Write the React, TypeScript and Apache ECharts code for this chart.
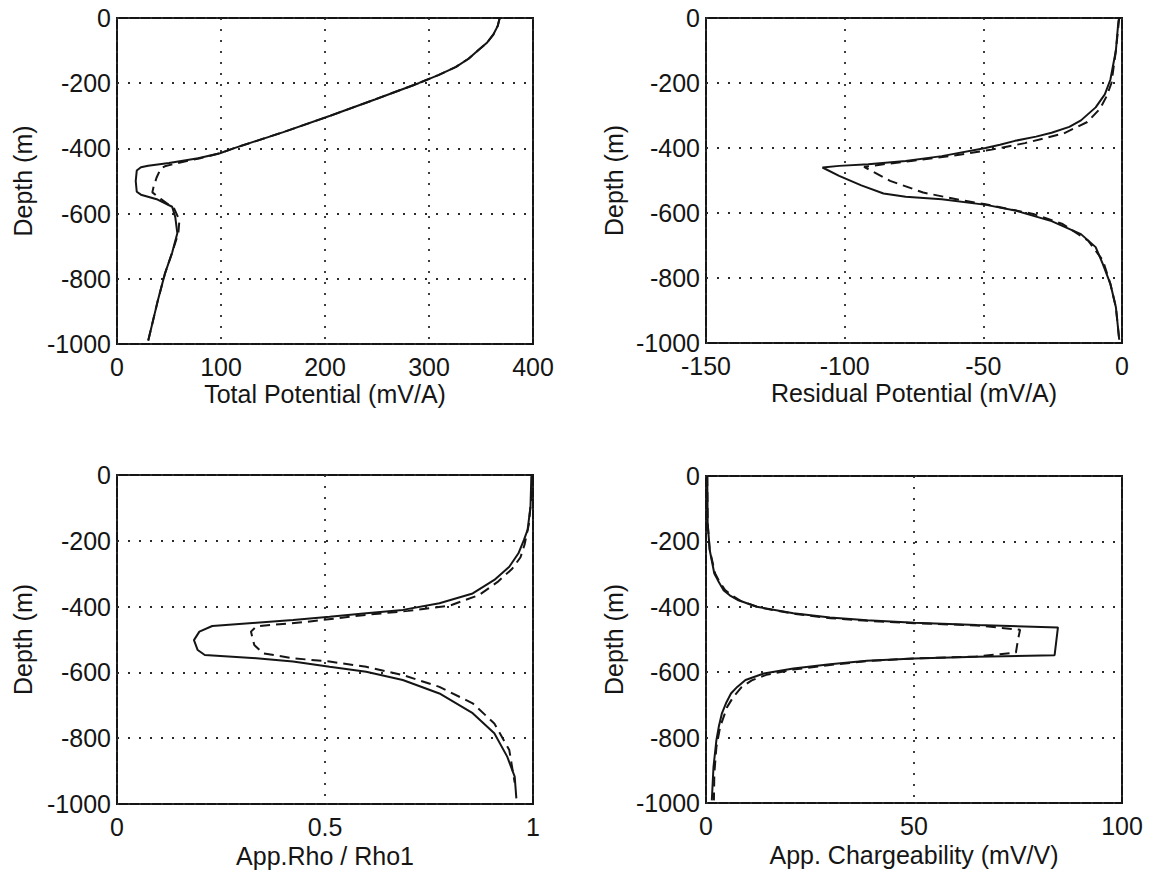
import React, { useEffect, useRef } from "react";
import * as echarts from "echarts";

// ---- Panel 1: Total Potential (mV/A) ----
const tpModelDepth = [0, -25, -50, -75, -100, -125, -150, -175, -200, -250, -300, -350, -400, -415, -430, -445, -453, -458, -468, -500, -533, -542, -557, -579, -610, -660, -720, -785, -870, -990];
const tpModel = [368, 366, 362, 356, 347, 338, 326, 309, 290, 248, 205, 160, 112, 99, 78, 50, 30, 23, 19, 18, 19, 23, 39, 53, 56, 58, 53, 46, 39, 30];
const tpFitDepth = [0, -25, -50, -75, -100, -125, -150, -175, -200, -250, -300, -350, -400, -415, -430, -445, -455, -462, -490, -520, -535, -555, -585, -620, -660, -720, -785, -870, -990];
const tpFit = [368, 366, 362, 356, 347, 338, 326, 309, 290, 248, 205, 160, 112, 99, 80, 58, 46, 42, 38, 35, 34, 42, 55, 60, 59, 53, 46, 39, 30];

// ---- Panel 2: Residual Potential (mV/A) ----
const rpModelDepth = [0, -10, -100, -190, -235, -275, -315, -335, -353, -365, -378, -390, -400, -425, -440, -450, -455, -460, -486, -515, -540, -550, -558, -575, -592, -625, -665, -705, -757, -818, -890, -990];
const rpModel = [-1, -1.3, -2.2, -4.2, -6.2, -9.5, -14.8, -19, -25.4, -31, -38.6, -44, -49.2, -65, -78, -91.5, -102, -108, -102, -94, -86, -78, -65, -49, -38.6, -25.4, -14.8, -9.5, -6.9, -4.2, -2.2, -1];
const rpFitDepth = [0, -100, -200, -240, -280, -320, -355, -385, -405, -425, -440, -450, -458, -501, -537, -560, -573, -603, -634, -685, -746, -818, -890, -990];
const rpFit = [-1, -2.2, -3.8, -5.5, -8, -12.5, -21, -35, -47, -62, -76, -86, -93, -83.6, -71.7, -58.5, -49.2, -32, -21.4, -12.2, -6.9, -4.2, -2.2, -1];

// ---- Panel 3: App.Rho / Rho1 ----
const arModelDepth = [0, -5, -96, -167, -198, -238, -279, -319, -360, -390, -410, -420, -431, -441, -449, -459, -476, -502, -532, -547, -557, -567, -583, -598, -623, -664, -724, -785, -856, -917, -983];
const arModel = [1, 0.996, 0.994, 0.987, 0.978, 0.965, 0.943, 0.907, 0.855, 0.775, 0.687, 0.599, 0.511, 0.423, 0.335, 0.229, 0.198, 0.185, 0.194, 0.211, 0.335, 0.423, 0.511, 0.599, 0.687, 0.775, 0.855, 0.907, 0.938, 0.956, 0.96];
const arFitDepth = [0, -80, -150, -210, -250, -285, -325, -365, -397, -413, -425, -447, -460, -476, -517, -542, -557, -567, -583, -608, -644, -694, -755, -836, -935];
const arFit = [1, 0.995, 0.99, 0.98, 0.97, 0.95, 0.915, 0.87, 0.8, 0.7, 0.6, 0.45, 0.335, 0.322, 0.33, 0.352, 0.423, 0.511, 0.599, 0.687, 0.775, 0.855, 0.907, 0.943, 0.956];

// ---- Panel 4: App. Chargeability (mV/V) ----
const acModelDepth = [0, -145, -227, -298, -320, -349, -365, -380, -400, -420, -433, -441, -449, -456, -463, -548, -553, -558, -565, -576, -589, -604, -624, -645, -665, -695, -727, -765, -808, -890, -992];
const acModel = [0.3, 0.4, 0.9, 2.0, 2.9, 4.2, 5.7, 7.8, 12.2, 21, 29.8, 38.7, 50.1, 65.1, 84.6, 83.8, 65.1, 50.1, 38.7, 29.8, 21, 13.9, 9.5, 7.5, 6.0, 4.8, 3.8, 3.1, 2.5, 1.8, 1.4];
const acFitDepth = [0, -145, -227, -298, -320, -349, -365, -382, -402, -422, -435, -443, -450, -457, -470, -500, -540, -552, -558, -566, -578, -592, -608, -625, -645, -675, -706, -767, -829, -910, -992];
const acFit = [0.3, 0.4, 0.9, 2.2, 3.1, 4.6, 6.2, 8.3, 12.8, 21.5, 30, 39, 50, 65, 75.5, 75, 74.5, 65, 50, 38.7, 29.8, 21, 14.5, 11, 8.6, 6.6, 5.1, 3.4, 2.5, 2.0, 1.9];

// ---- Axes ----
const xNames = ["Total Potential (mV/A)", "Residual Potential (mV/A)", "App.Rho / Rho1", "App. Chargeability (mV/V)"];
const xMins = [0, -150, 0, 0];
const xMaxs = [400, 0, 1, 100];
const xIntervals = [100, 50, 0.5, 50];
const yName = "Depth (m)";

const FONT = "'Liberation Sans', Arial, Helvetica, sans-serif";
const INK = "#151515";
const FS = 25;

const zip = (xs: number[], ds: number[]) => xs.map((x, i) => [x, ds[i]]);
const fmt = (v: number) => String(v);

export default function App() {
  const ref = useRef<HTMLDivElement>(null);
  useEffect(() => {
    if (!ref.current) return;
    const chart = echarts.init(ref.current, undefined, { renderer: "svg" });
    const grids = [
      { left: 117, top: 18, width: 416, height: 326 },
      { left: 706, top: 18, width: 416, height: 325 },
      { left: 117, top: 475, width: 416, height: 329 },
      { left: 706, top: 476, width: 416, height: 327 },
    ].map((g) => ({ ...g, show: true, borderColor: INK, borderWidth: 2, backgroundColor: "transparent" }));

    const split = { show: true, lineStyle: { type: [2, 9] as any, color: "#2a2a2a", width: 1.8 } };
    const xNameGaps = [37, 37, 39, 39];
    const yNameGaps = [82, 80, 82, 80];

    const xAxis = xNames.map((n, i) => ({
      gridIndex: i,
      type: "value",
      min: xMins[i],
      max: xMaxs[i],
      interval: xIntervals[i],
      name: n,
      nameLocation: "middle",
      nameGap: xNameGaps[i],
      nameTextStyle: { fontSize: FS, color: INK, fontFamily: FONT },
      axisLine: { show: false },
      axisTick: { show: false },
      axisLabel: { fontSize: FS, color: INK, fontFamily: FONT, margin: 10, showMinLabel: true, showMaxLabel: true, formatter: fmt },
      splitLine: split,
    }));
    const yAxis = [0, 1, 2, 3].map((i) => ({
      gridIndex: i,
      type: "value",
      min: -1000,
      max: 0,
      interval: 200,
      name: yName,
      nameLocation: "middle",
      nameGap: yNameGaps[i],
      nameTextStyle: { fontSize: FS, color: INK, fontFamily: FONT },
      axisLine: { show: false },
      axisTick: { show: false },
      axisLabel: { fontSize: FS, color: INK, fontFamily: FONT, margin: 6, showMinLabel: true, showMaxLabel: true, formatter: fmt },
      splitLine: split,
    }));

    const pairs: [number[], number[], number[], number[]][] = [
      [tpModel, tpModelDepth, tpFit, tpFitDepth],
      [rpModel, rpModelDepth, rpFit, rpFitDepth],
      [arModel, arModelDepth, arFit, arFitDepth],
      [acModel, acModelDepth, acFit, acFitDepth],
    ];
    const series: any[] = [];
    pairs.forEach(([mx, md, fx, fd], i) => {
      series.push({
        type: "line",
        xAxisIndex: i,
        yAxisIndex: i,
        data: zip(fx, fd),
        showSymbol: false,
        lineStyle: { color: INK, width: 2, type: [10, 6] },
        z: 3,
      });
      series.push({
        type: "line",
        xAxisIndex: i,
        yAxisIndex: i,
        data: zip(mx, md),
        showSymbol: false,
        lineStyle: { color: INK, width: 2, type: "solid" },
        z: 4,
      });
    });

    chart.setOption({
      animation: false,
      backgroundColor: "#fff",
      textStyle: { fontFamily: FONT },
      grid: grids,
      xAxis,
      yAxis,
      series,
    });
    return () => chart.dispose();
  }, []);
  return (
    <div
      ref={ref}
      style={{ position: "fixed", left: 0, top: 0, width: 1150, height: 873, background: "#fff" }}
    />
  );
}
